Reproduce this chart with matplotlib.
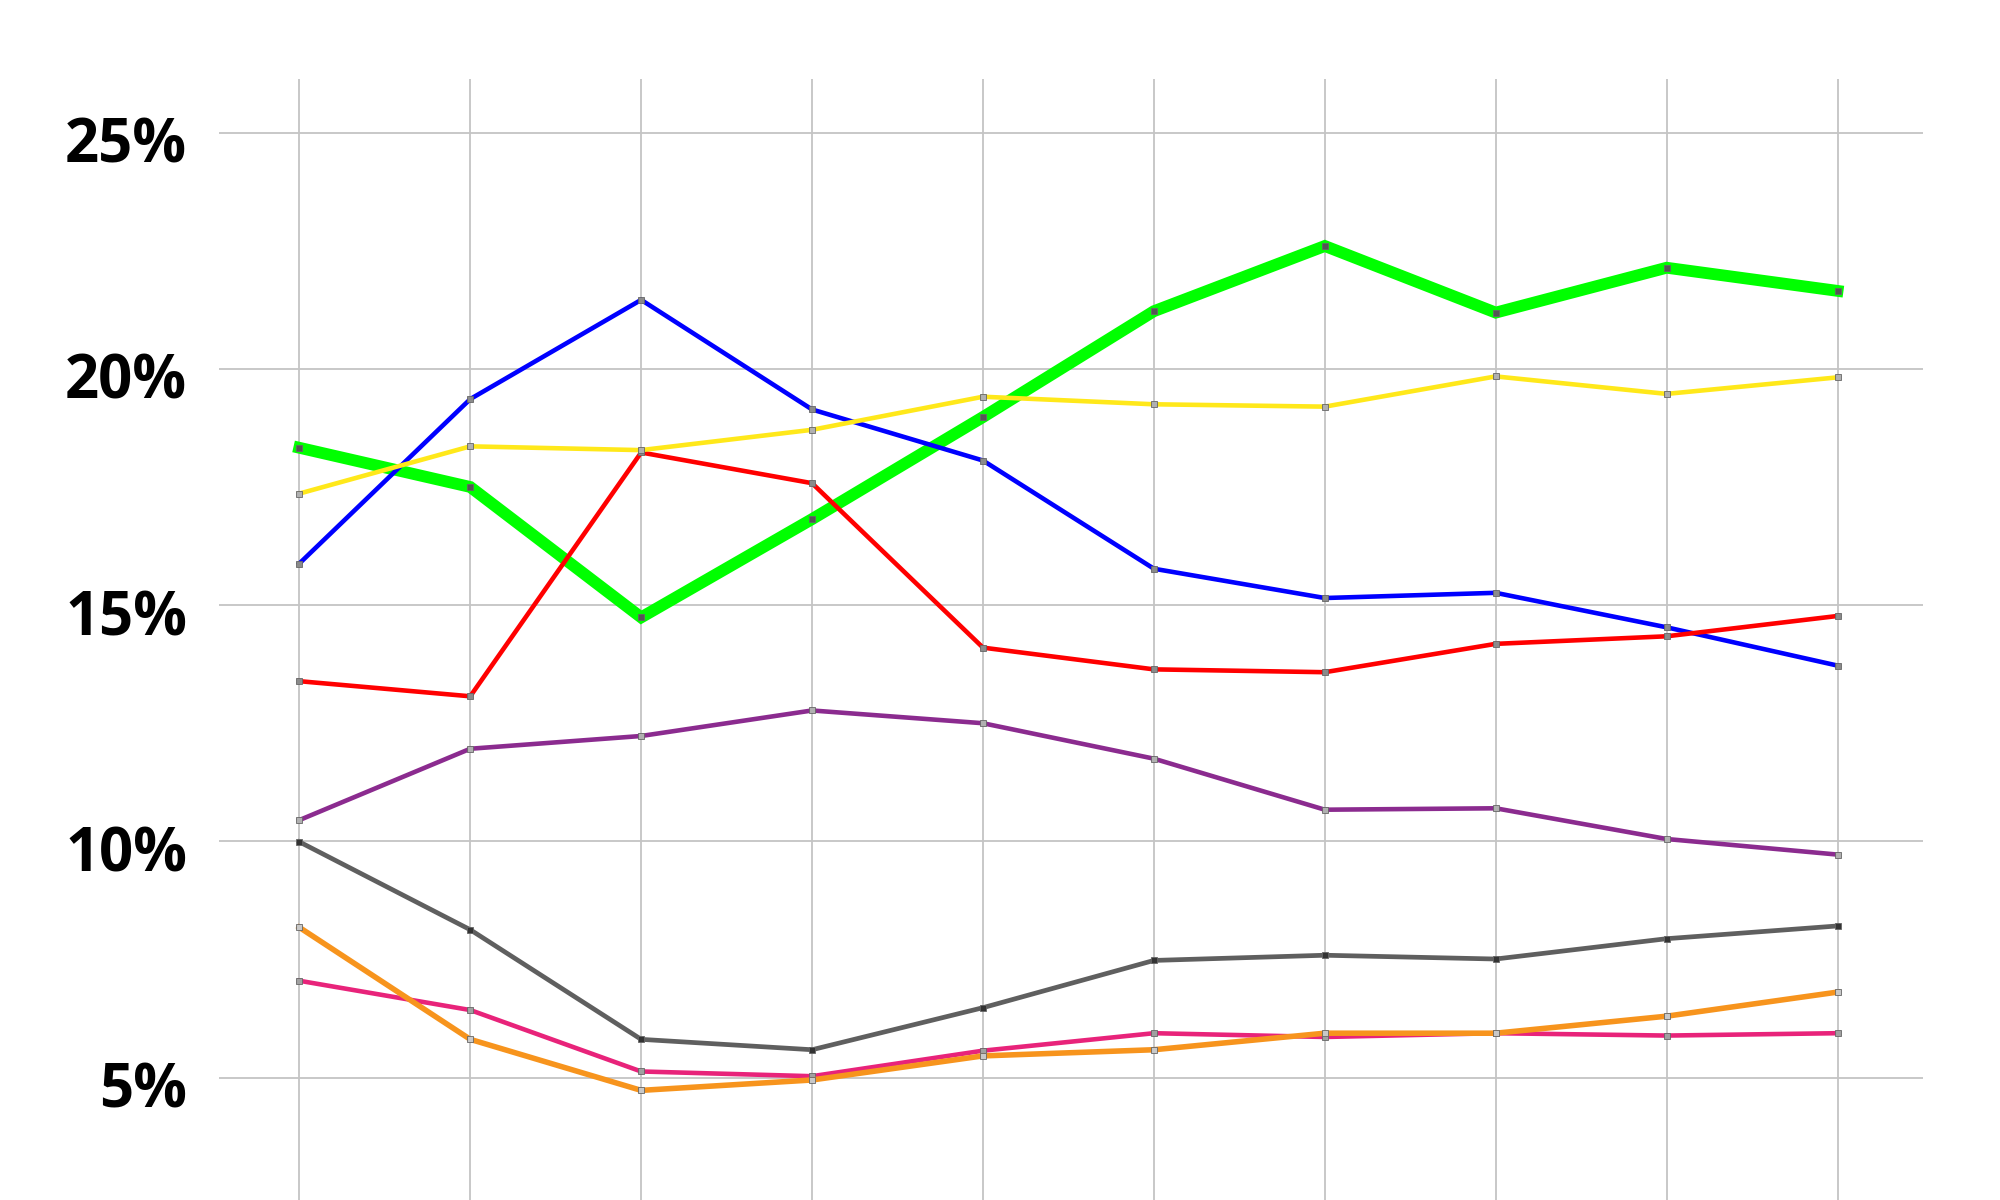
import matplotlib
matplotlib.use('Agg')
import matplotlib.pyplot as plt
import matplotlib.ticker as mtick
from matplotlib.transforms import ScaledTranslation

x = list(range(10))

green = [18.33, 17.50, 14.74, 16.82, 18.98, 21.22, 22.60, 21.19, 22.14, 21.65]
blue = [15.88, 19.36, 21.46, 19.14, 18.06, 15.77, 15.15, 15.26, 14.53, 13.72]
yellow = [17.36, 18.36, 18.28, 18.71, 19.41, 19.25, 19.20, 19.84, 19.47, 19.82]
red = [13.39, 13.07, 18.23, 17.58, 14.10, 13.64, 13.58, 14.18, 14.34, 14.77]
purple = [10.45, 11.96, 12.23, 12.77, 12.50, 11.75, 10.67, 10.70, 10.05, 9.72]
gray = [9.99, 8.13, 5.81, 5.59, 6.48, 7.48, 7.59, 7.51, 7.94, 8.21]
pink = [7.05, 6.43, 5.13, 5.03, 5.57, 5.94, 5.86, 5.94, 5.89, 5.94]
orange = [8.18, 5.81, 4.73, 4.95, 5.46, 5.59, 5.94, 5.94, 6.30, 6.81]

yticks = [5, 10, 15, 20, 25]

fig = plt.figure(figsize=(20, 12), dpi=100)
ax = fig.add_axes([0.1095, 0.0, 0.852, 0.934])

# (values, colour, line width, marker face)
series = [
    (green, '#00ff00', 8.5, '#555555'),
    (blue, '#0000ff', 3.3, '#8a8a8a'),
    (red, '#ff0000', 3.3, '#8a8a8a'),
    (purple, '#8b2b8f', 3.3, '#b0b0b0'),
    (gray, '#5f5f5f', 3.4, '#333333'),
    (pink, '#e8237a', 3.3, '#a0a0a0'),
    (orange, '#f7941d', 4.0, '#c8c8c8'),
    (yellow, '#ffe81a', 3.3, '#b0b0b0'),
]
for vals, col, lw, mfc in series:
    ax.plot(x, vals, color=col, lw=lw, marker='s', markersize=4,
            markerfacecolor=mfc, markeredgecolor='#666666', markeredgewidth=0.6,
            solid_joinstyle='miter')

ax.set_xlim(-0.47, 9.5)
ax.set_ylim(2.41, 26.13)
ax.set_xticks(x)
ax.set_yticks(yticks)
ax.yaxis.set_major_formatter(mtick.FuncFormatter(lambda v, p: '%d%%' % v))
ax.tick_params(axis='x', length=0, labelbottom=False)
ax.tick_params(axis='y', length=0, pad=23, labelsize=43)
for lab in ax.get_yticklabels():
    lab.set_fontfamily(['Open Sans', 'DejaVu Sans'])
    lab.set_fontweight('bold')
    lab.set_transform(lab.get_transform() + ScaledTranslation(0, -0.07, fig.dpi_scale_trans))

ax.grid(True, color='#c4c4c4', lw=1.3)
ax.set_axisbelow(True)
for s in ax.spines.values():
    s.set_visible(False)

fig.savefig('out.png', dpi=100, facecolor='white')
